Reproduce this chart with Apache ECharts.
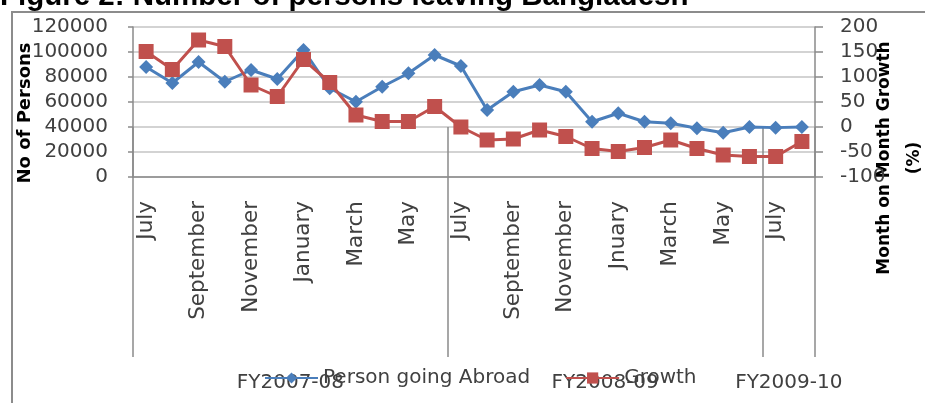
<!DOCTYPE html>
<html>
<head>
<meta charset="utf-8">
<script src="https://cdn.jsdelivr.net/npm/echarts@6/dist/echarts.min.js"></script>
<style>
  html, body { margin: 0; padding: 0; background: #ffffff; }
  #chart { width: 925px; height: 403px; }
</style>
</head>
<body>
<div id="chart"></div>
<script>
// Monthly categories, July 2007 to August 2009
const months = [
  'July', 'August', 'September', 'October', 'November', 'December',
  'January', 'February', 'March', 'April', 'May', 'June',
  'July', 'August', 'September', 'October', 'November', 'December',
  'Jnuary', 'February', 'March', 'April', 'May', 'June',
  'July', 'August'
];

// Number of persons going abroad each month
const personsAbroad = [
  88000, 75200, 92000, 76200, 85600, 78400,
  101600, 71000, 60200, 72200, 83000, 97600,
  88800, 53600, 68200, 73600, 68200, 44200,
  51000, 44200, 43000, 39000, 35400, 40000,
  39500, 40000
];

// Month on month growth (%)
const growth = [
  151, 115, 174, 161, 84, 61,
  135, 89, 24, 11, 11, 41,
  0, -26, -24, -6, -19, -43,
  -49, -41, -26, -43, -56, -59,
  -59, -29
];

// Fiscal year groups along the category axis
const fiscalYears = ['FY2007-08', 'FY2008-09', 'FY2009-10'];
const monthsPerYear = [12, 12, 2];

// Axis scales
const personsAxis = { min: 0, max: 120000, interval: 20000 };
const growthAxis = { min: -100, max: 200, interval: 50 };

// Group boundaries and centres in category units
const boundaries = [0];
monthsPerYear.forEach(n => boundaries.push(boundaries[boundaries.length - 1] + n));
const centres = fiscalYears.map((_, i) => (boundaries[i] + boundaries[i + 1]) / 2);

const FONT = '"DejaVu Sans", sans-serif';
const TEXT = '#404040';
const AXIS = '#8a8a8a';
const GRID = '#c4c4c4';
const BLUE = '#4a7ebb';
const RED = '#c0504d';

const chart = echarts.init(document.getElementById('chart'), null, { renderer: 'canvas' });

chart.setOption({
  animation: false,
  backgroundColor: '#ffffff',
  title: {
    text: 'Figure 2: Number of persons leaving Bangladesh',
    left: 0,
    top: -18,
    padding: 0,
    textStyle: { fontFamily: '"Liberation Sans", Arial, sans-serif', fontWeight: 'bold', fontSize: 29.5, color: '#000000' }
  },
  graphic: [
    {
      type: 'rect',
      shape: { x: 12, y: 12, width: 960, height: 440 },
      style: { fill: 'none', stroke: '#8c8c8c', lineWidth: 2 },
      silent: true
    },
    {
      type: 'text',
      x: 25, y: 113,
      rotation: Math.PI / 2,
      style: {
        text: 'No of Persons',
        fontFamily: FONT, fontWeight: 'bold', fontSize: 18, fill: '#000000',
        textAlign: 'center', textVerticalAlign: 'middle'
      }
    },
    {
      type: 'text',
      x: 900, y: 158,
      rotation: Math.PI / 2,
      style: {
        text: 'Month on Month Growth\n(%)',
        fontFamily: FONT, fontWeight: 'bold', fontSize: 17, fill: '#000000',
        lineHeight: 30,
        textAlign: 'center', textVerticalAlign: 'middle'
      }
    }
  ],
  legend: {
    data: ['Person going Abroad', 'Growth'],
    left: 264,
    top: 368,
    itemWidth: 53,
    itemHeight: 14,
    itemGap: 35,
    padding: 0,
    textStyle: { fontFamily: FONT, fontSize: 20, color: TEXT }
  },
  grid: { left: 133, right: 110, top: 27, height: 150, containLabel: false },
  xAxis: [
    {
      type: 'category',
      data: months,
      boundaryGap: true,
      axisLine: { show: true, lineStyle: { color: AXIS, width: 1.5 } },
      axisTick: { show: false },
      axisLabel: {
        interval: 1,
        rotate: 90,
        align: 'right',
        verticalAlign: 'middle',
        margin: 24,
        hideOverlap: false,
        fontFamily: FONT, fontSize: 21.5, color: TEXT
      },
      splitLine: { show: false }
    },
    {
      type: 'value',
      min: 0,
      max: boundaries[boundaries.length - 1],
      position: 'bottom',
      axisLine: { show: false },
      axisTick: {
        show: true,
        customValues: boundaries,
        length: 230,
        lineStyle: { color: AXIS, width: 1.5 }
      },
      axisLabel: {
        show: true,
        customValues: centres,
        margin: 196,
        formatter: v => fiscalYears[centres.indexOf(v)] || '',
        fontFamily: FONT, fontSize: 20, color: TEXT
      },
      splitLine: { show: false }
    }
  ],
  yAxis: [
    {
      type: 'value',
      min: personsAxis.min, max: personsAxis.max, interval: personsAxis.interval,
      axisLine: { show: true, lineStyle: { color: AXIS, width: 1.5 } },
      axisTick: { show: true, length: 5, lineStyle: { color: AXIS, width: 1.5 } },
      axisLabel: { margin: 25, formatter: v => String(v), fontFamily: FONT, fontSize: 20, color: TEXT },
      splitLine: { show: true, lineStyle: { color: GRID, width: 1.5 } }
    },
    {
      type: 'value',
      position: 'right',
      min: growthAxis.min, max: growthAxis.max, interval: growthAxis.interval,
      axisLine: { show: true, lineStyle: { color: AXIS, width: 1.5 } },
      axisTick: { show: true, length: 8, lineStyle: { color: AXIS, width: 1.5 } },
      axisLabel: { margin: 25, formatter: v => String(v), fontFamily: FONT, fontSize: 20, color: TEXT },
      splitLine: { show: false }
    }
  ],
  series: [
    {
      name: 'Person going Abroad',
      type: 'line',
      xAxisIndex: 0,
      yAxisIndex: 0,
      data: personsAbroad,
      symbol: 'diamond',
      symbolSize: 14,
      lineStyle: { color: BLUE, width: 3 },
      itemStyle: { color: BLUE },
      z: 3
    },
    {
      name: 'Growth',
      type: 'line',
      xAxisIndex: 0,
      yAxisIndex: 1,
      data: growth,
      symbol: 'rect',
      symbolSize: 15,
      lineStyle: { color: RED, width: 3 },
      itemStyle: { color: RED },
      z: 4
    }
  ]
});
</script>
</body>
</html>
